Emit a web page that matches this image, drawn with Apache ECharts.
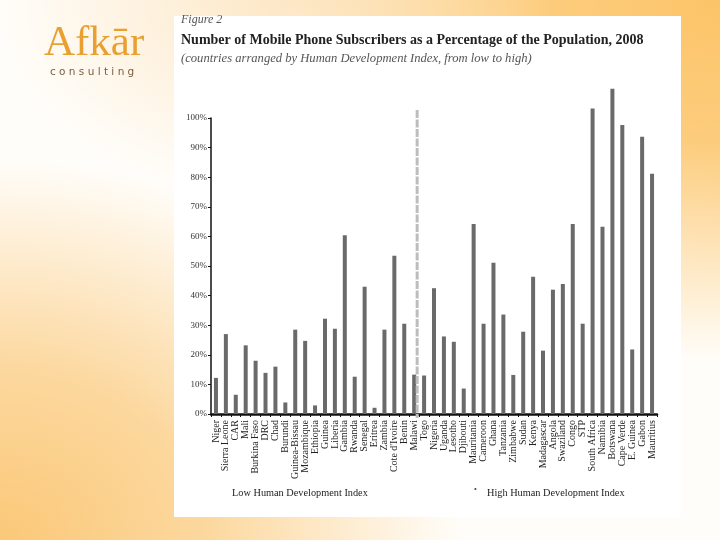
<!DOCTYPE html>
<html>
<head>
<meta charset="utf-8">
<script src="https://cdn.jsdelivr.net/npm/echarts@6/dist/echarts.min.js"></script>
<style>
html,body{margin:0;padding:0;width:720px;height:540px;overflow:hidden;}
body{
  background:
    radial-gradient(ellipse 420px 360px at 720px 0px, rgba(252,196,104,1) 0%, rgba(252,196,104,0.85) 40%, rgba(252,196,104,0) 100%),
    radial-gradient(ellipse 460px 380px at 0px 540px, rgba(251,200,120,1) 0%, rgba(251,200,120,0.7) 45%, rgba(251,200,120,0) 100%),
    radial-gradient(ellipse 300px 200px at 300px 0px, rgba(251,215,160,0.6) 0%, rgba(251,215,160,0) 100%),
    #fffdf9;
}
#chart{width:720px;height:540px;}
</style>
</head>
<body>
<div id="chart"></div>
<script>
var categories = ["Niger","Sierra Leone","CAR","Mali","Burkina Faso","DRC","Chad","Burundi","Guinea-Bissau","Mozambique","Ethiopia","Guinea","Liberia","Gambia","Rwanda","Senegal","Eritrea","Zambia","Cote d'Ivoire","Benin","Malawi","Togo","Nigeria","Uganda","Lesotho","Djibouti","Mauritania","Cameroon","Ghana","Tanzania","Zimbabwe","Sudan","Kenya","Madagascar","Angola","Swaziland","Congo","STP","South Africa","Namibia","Botswana","Cape Verde","E. Guinea","Gabon","Mauritius"];
var subscribers = [12.2,27.0,6.5,23.2,18.0,13.9,16.0,3.9,28.5,24.7,2.9,32.2,28.8,60.4,12.6,43.0,2.1,28.5,53.5,30.5,13.3,13.0,42.5,26.2,24.4,8.6,64.2,30.5,51.1,33.6,13.2,27.8,46.4,21.4,42.0,43.9,64.2,30.5,103.2,63.3,109.9,97.6,21.8,93.7,81.2];
var yTicks = [0,10,20,30,40,50,60,70,80,90,100];
var dividerAfter = "Malawi";
var titleTexts = {
  fig: "Figure 2",
  main: "Number of Mobile Phone Subscribers as a Percentage of the Population, 2008",
  sub: "(countries arranged by Human Development Index, from low to high)",
  low: "Low Human Development Index",
  high: "High Human Development Index"
};

var serif = "'Liberation Serif','DejaVu Serif',serif";
var chart = echarts.init(document.getElementById('chart'), null, {renderer:'canvas'});
chart.setOption({
  backgroundColor: 'transparent',
  animation: false,
  grid: {left: 211, right: 63, top: 118, bottom: 126, containLabel: false},
  xAxis: {
    type: 'category',
    data: categories,
    axisLine: {show: true, lineStyle: {color: '#111', width: 2.5}},
    axisTick: {show: true, length: 3, interval: 0, lineStyle: {color: '#111', width: 1}},
    axisLabel: {interval: 0, rotate: 90, fontFamily: serif, fontSize: 10, color: '#222', margin: 6}
  },
  yAxis: {
    type: 'value',
    min: yTicks[0], max: yTicks[yTicks.length-1], interval: 10,
    axisLine: {show: true, lineStyle: {color: '#111', width: 1.5}},
    axisTick: {show: true, length: 3, lineStyle: {color: '#111'}},
    splitLine: {show: false},
    axisLabel: {formatter: '{value}%', fontFamily: serif, fontSize: 9, color: '#333', margin: 4}
  },
  series: [{
    type: 'bar',
    data: subscribers,
    barWidth: 4,
    clip: false,
    itemStyle: {color: '#6a6a6a'}
  }]
});

var idx = categories.indexOf(dividerAfter);
var x1 = chart.convertToPixel({xAxisIndex:0}, categories[idx]);
var x2 = chart.convertToPixel({xAxisIndex:0}, categories[idx+1]);
var lx = x1 + (x2 - x1) * 0.3;

chart.setOption({
  graphic: [
    {type:'rect', z:-10, silent:true, shape:{x:174, y:16, width:507, height:501}, style:{fill:'#ffffff'}},
    {type:'text', left: 44, top: 22, style:{text:'Afkār', font:"43px 'Liberation Serif','DejaVu Serif',serif", fill:'#e9a030'}},
    {type:'text', left: 50, top: 67, style:{text:'c o n s u l t i n g', font:"10.5px 'DejaVu Sans',sans-serif", fill:'#7a6040'}},
    {type:'text', left: 181, top: 14, style:{text:titleTexts.fig, font:"italic 12px "+serif, fill:'#555'}},
    {type:'text', left: 181, top: 33, style:{text:titleTexts.main, font:"bold 14px "+serif, fill:'#222'}},
    {type:'text', left: 181, top: 52, style:{text:titleTexts.sub, font:"italic 12.6px "+serif, fill:'#555'}},
    {type:'line', z: 50, silent:true, shape:{x1: lx, y1: 110, x2: lx, y2: 418}, style:{stroke:'#bdbdbd', lineWidth:3, lineDash:[8,1.5]}},
    {type:'text', left: 232, top: 488, style:{text:titleTexts.low, font:"10.3px "+serif, fill:'#222'}},
    {type:'text', left: 474, top: 486, style:{text:'•', font:"8px "+serif, fill:'#444'}},
    {type:'text', left: 487, top: 488, style:{text:titleTexts.high, font:"10.3px "+serif, fill:'#222'}}
  ]
});
</script>
</body>
</html>
